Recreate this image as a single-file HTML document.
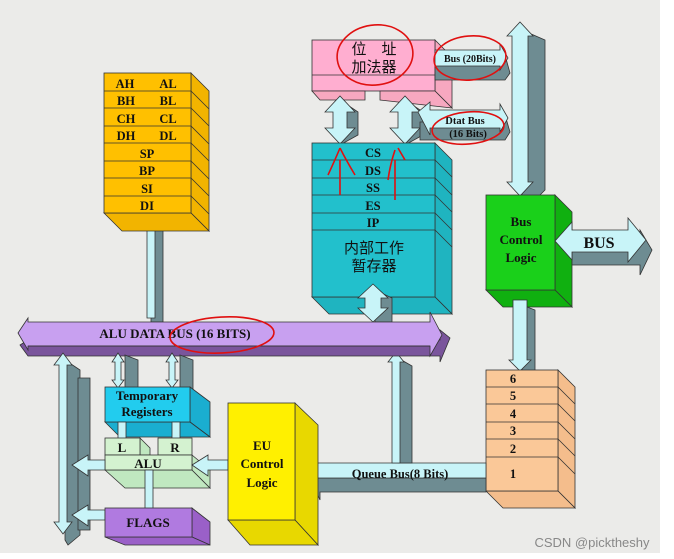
<!DOCTYPE html>
<html><head><meta charset="utf-8"><style>
html,body{margin:0;padding:0;background:#fff;}
svg{display:block}
text{font-family:"Liberation Serif","Noto Serif CJK SC",serif;font-weight:bold;fill:#111}
.cj{font-family:"Liberation Sans","Noto Sans CJK SC",sans-serif;font-weight:normal}
</style></head><body>
<svg width="674" height="559" viewBox="0 0 674 559" xmlns="http://www.w3.org/2000/svg">
<rect width="674" height="559" fill="#fff"/>
<rect x="0" y="0" width="660" height="553" fill="#ebebe9"/>
<g stroke="#333" stroke-width="0.8">
<polygon points="151,222 163,228 163,322 151,322" fill="#6e8c92"/>
<polygon points="143,225 151,216 159,225 155,225 155,318 147,318 147,225" fill="#c8f4f8"/>

<polygon points="191,73 209,91 209,231 191,213" fill="#f2b400"/>
<polygon points="104,213 122,231 209,231 191,213" fill="#f2b400"/>
<rect x="104" y="73" width="87" height="140" fill="#ffc000"/>
<line x1="104" y1="91" x2="191" y2="91"/><line x1="104" y1="108" x2="191" y2="108"/>
<line x1="104" y1="126" x2="191" y2="126"/><line x1="104" y1="143" x2="191" y2="143"/>
<line x1="104" y1="161" x2="191" y2="161"/><line x1="104" y1="178" x2="191" y2="178"/>
<line x1="104" y1="196" x2="191" y2="196"/>
<line x1="191" y1="91" x2="209" y2="109"/><line x1="191" y1="108" x2="209" y2="126"/>
<line x1="191" y1="126" x2="209" y2="144"/><line x1="191" y1="143" x2="209" y2="161"/>
<line x1="191" y1="161" x2="209" y2="179"/><line x1="191" y1="178" x2="209" y2="196"/>
<line x1="191" y1="196" x2="209" y2="214"/>

<polygon points="435,40 452,57 452,108 435,91" fill="#f7a8c0"/>
<rect x="312" y="40" width="123" height="51" fill="#ffaed0"/>
<line x1="312" y1="75" x2="435" y2="75"/>
<polygon points="312,91 320,100 365,100 365,91" fill="#f7a8c0"/>
<polygon points="380,91 380,100 452,108 435,91" fill="#f7a8c0"/>

<polygon points="340,100 358,112 358,135 340,145" fill="#6e8c92"/>
<polygon points="325,112 340,96 355,112 347,112 347,128 355,128 340,144 325,128 333,128 333,112" fill="#c8f4f8"/>
<polygon points="405,100 423,112 423,135 405,145" fill="#6e8c92"/>
<polygon points="390,112 405,96 420,112 412,112 412,128 420,128 405,144 390,128 398,128 398,112" fill="#c8f4f8"/>

<polygon points="435,62 505,62 505,55 510,73 505,80 435,80" fill="#6e8c92"/>
<polygon points="435,50 500,50 500,44 508,58 500,70 500,66 435,66" fill="#c8f4f8"/>
<polygon points="420,122 505,122 505,115 510,132 505,140 420,140" fill="#6e8c92"/>
<polygon points="418,112 430,102 430,110 500,110 500,104 508,118 500,132 500,128 430,128 430,135" fill="#c8f4f8"/>

<polygon points="522,30 545,40 545,190 530,205 522,195" fill="#6e8c92"/>
<polygon points="507,36 520,22 533,36 528,36 528,182 533,182 520,196 507,182 512,182 512,36" fill="#c8f4f8"/>

<polygon points="435,143 452,160 452,314 435,297" fill="#1fb4c0"/>
<polygon points="312,297 329,314 452,314 435,297" fill="#1fb4c0"/>
<rect x="312" y="143" width="123" height="154" fill="#22c0cc"/>
<line x1="312" y1="160" x2="435" y2="160"/><line x1="312" y1="178" x2="435" y2="178"/>
<line x1="312" y1="195" x2="435" y2="195"/><line x1="312" y1="213" x2="435" y2="213"/>
<line x1="312" y1="230" x2="435" y2="230"/>
<line x1="435" y1="160" x2="452" y2="177"/><line x1="435" y1="178" x2="452" y2="195"/>
<line x1="435" y1="195" x2="452" y2="212"/><line x1="435" y1="213" x2="452" y2="230"/>
<line x1="435" y1="230" x2="452" y2="247"/>

<polygon points="375,290 392,298 392,322 375,322" fill="#6e8c92"/>
<polygon points="358,298 373,284 388,298 381,298 381,308 388,308 373,322 358,308 365,308 365,298" fill="#c8f4f8"/>

<polygon points="555,195 572,212 572,307 555,290" fill="#10b010"/>
<polygon points="486,290 503,307 572,307 555,290" fill="#10b010"/>
<rect x="486" y="195" width="69" height="95" fill="#1ad01a"/>

<polygon points="572,245 640,245 640,230 652,250 640,275 640,265 572,265" fill="#6e8c92"/>
<polygon points="555,241 572,222 572,230 628,230 628,218 646,240 628,262 628,252 572,252 572,260" fill="#c8f4f8"/>

<polygon points="522,305 535,310 535,372 522,372" fill="#6e8c92"/>
<polygon points="513,300 527,300 527,360 531,360 520,371 509,360 513,360" fill="#c8f4f8"/>

<polygon points="558,370 575,387 575,508 558,491" fill="#f4bd8c"/>
<polygon points="486,491 503,508 575,508 558,491" fill="#f4bd8c"/>
<rect x="486" y="370" width="72" height="121" fill="#fac898"/>
<line x1="486" y1="387" x2="558" y2="387"/><line x1="486" y1="404" x2="558" y2="404"/>
<line x1="486" y1="422" x2="558" y2="422"/><line x1="486" y1="439" x2="558" y2="439"/>
<line x1="486" y1="457" x2="558" y2="457"/>
<line x1="558" y1="387" x2="575" y2="404"/><line x1="558" y1="404" x2="575" y2="421"/>
<line x1="558" y1="422" x2="575" y2="439"/><line x1="558" y1="439" x2="575" y2="456"/>
<line x1="558" y1="457" x2="575" y2="474"/>

<polygon points="310,478 486,478 486,492 320,492 320,500" fill="#6e8c92"/>
<polygon points="298,474 314,456 314,463 486,463 486,478 314,478 314,490" fill="#c8f4f8"/>

<polygon points="398,358 412,366 412,463 398,463" fill="#6e8c92"/>
<polygon points="388,362 396,352 404,362 400,362 400,463 392,463 392,362" fill="#c8f4f8"/>

<polygon points="28,340 440,340 440,330 450,338 440,362 440,356 28,356 20,345" fill="#7a559c"/>
<polygon points="18,333 28,318 28,322 430,322 430,312 442,335 430,356 430,346 28,346 28,350" fill="#c8a0f0"/>
<line x1="28" y1="346" x2="430" y2="346"/>

<polygon points="65,360 80,370 80,535 68,545 65,540" fill="#6e8c92"/>
<polygon points="54,365 63,353 72,365 67,365 67,522 72,522 63,534 54,522 59,522 59,365" fill="#c8f4f8"/>
<polygon points="78,378 90,378 90,530 78,530" fill="#6e8c92"/>
<polygon points="125,355 138,360 138,390 125,390" fill="#6e8c92"/>
<polygon points="112,362 118,353 124,362 121,362 121,380 124,380 118,388 112,380 115,380 115,362" fill="#c8f4f8"/>
<polygon points="180,355 193,360 193,390 180,390" fill="#6e8c92"/>
<polygon points="166,362 172,353 178,362 175,362 175,380 178,380 172,388 166,380 169,380 169,362" fill="#c8f4f8"/>

<polygon points="190,387 210,402 210,437 190,422" fill="#1aaed0"/>
<polygon points="105,422 120,437 210,437 190,422" fill="#1aaed0"/>
<rect x="105" y="387" width="85" height="35" fill="#22ccee"/>
<rect x="118" y="422" width="8" height="18" fill="#c8f4f8"/>
<rect x="172" y="422" width="8" height="18" fill="#c8f4f8"/>

<polygon points="105,470 125,488 210,488 192,470" fill="#c0e8c0"/>
<polygon points="192,455 210,470 210,488 192,470" fill="#c0e8c0"/>
<polygon points="140,438 150,448 150,455 140,455" fill="#c0e8c0"/>
<rect x="105" y="438" width="35" height="17" fill="#d4f2d0"/>
<rect x="158" y="438" width="34" height="17" fill="#d4f2d0"/>
<rect x="105" y="455" width="87" height="15" fill="#d4f2d0"/>
<polygon points="72,465 88,455 88,460 105,460 105,470 88,470 88,476" fill="#c8f4f8"/>
<polygon points="192,465 208,455 208,460 228,460 228,470 208,470 208,476" fill="#c8f4f8"/>
<rect x="145" y="470" width="8" height="40" fill="#c8f4f8"/>
<polygon points="72,515 88,505 88,510 105,510 105,520 88,520 88,526" fill="#c8f4f8"/>

<polygon points="192,508 210,522 210,545 192,537" fill="#9a60c8"/>
<polygon points="105,537 125,545 210,545 192,537" fill="#9a60c8"/>
<rect x="105" y="508" width="87" height="29" fill="#b07ae0"/>

<polygon points="295,403 318,425 318,545 295,520" fill="#e8d800"/>
<polygon points="228,520 250,545 318,545 295,520" fill="#e8d800"/>
<rect x="228" y="403" width="67" height="117" fill="#fff000"/>
</g>

<g font-size="12.5" text-anchor="middle">
<text x="125" y="88">AH</text><text x="168" y="88">AL</text>
<text x="126" y="105">BH</text><text x="168" y="105">BL</text>
<text x="126" y="123">CH</text><text x="168" y="123">CL</text>
<text x="126" y="140">DH</text><text x="168" y="140">DL</text>
<text x="147" y="158">SP</text><text x="147" y="175">BP</text>
<text x="147" y="193">SI</text><text x="147" y="210">DI</text>
<text x="373" y="157">CS</text><text x="373" y="175">DS</text>
<text x="373" y="192">SS</text><text x="373" y="210">ES</text>
<text x="373" y="227">IP</text>
<text x="513" y="478">1</text><text x="513" y="453">2</text><text x="513" y="435">3</text>
<text x="513" y="418">4</text><text x="513" y="400">5</text><text x="513" y="383">6</text>
</g>
<g font-size="14" text-anchor="middle" class="cj">
<text class="cj" x="374" y="54" font-size="15">位　址</text>
<text class="cj" x="374" y="72" font-size="15">加法器</text>
<text class="cj" x="374" y="253" font-size="15">内部工作</text>
<text class="cj" x="374" y="271" font-size="15">暂存器</text>
</g>
<text x="470" y="62" font-size="10" text-anchor="middle">Bus (20Bits)</text>
<text x="465" y="124" font-size="10.5" text-anchor="middle">Dtat Bus</text>
<text x="468" y="137" font-size="10.5" text-anchor="middle">(16 Bits)</text>
<g font-size="13" text-anchor="middle">
<text x="521" y="226">Bus</text><text x="521" y="244">Control</text><text x="521" y="262">Logic</text>
<text x="262" y="450">EU</text><text x="262" y="468">Control</text><text x="262" y="487">Logic</text>
<text x="147" y="400">Temporary</text><text x="147" y="416">Registers</text>
<text x="122" y="452">L</text><text x="175" y="452">R</text>
<text x="148" y="468">ALU</text>
<text x="148" y="527">FLAGS</text>
<text x="175" y="338">ALU DATA BUS (16 BITS)</text>
<text x="400" y="478" font-size="12.5">Queue  Bus(8 Bits)</text>
</g>
<text x="599" y="248" font-size="16" text-anchor="middle">BUS</text>

<g fill="none" stroke="#e01010" stroke-width="1.6">
<ellipse cx="375" cy="55" rx="38" ry="30" transform="rotate(-8 375 55)"/>
<ellipse cx="470" cy="58" rx="36" ry="22" transform="rotate(-5 470 58)"/>
<ellipse cx="468" cy="128" rx="36" ry="16" transform="rotate(-5 468 128)"/>
<ellipse cx="222" cy="335" rx="52" ry="18" transform="rotate(-3 222 335)"/>
<path d="M340,148 Q335,160 328,175 M340,148 Q346,160 355,175 M340,160 L340,195"/>
<path d="M395,150 Q390,165 388,180 M398,148 L405,160 M395,160 L395,200"/>
</g>
<text x="592" y="547" font-size="13" text-anchor="middle" style="font-family:'Liberation Sans',sans-serif;font-weight:normal;fill:#888">CSDN @picktheshy</text>
</svg>
</body></html>
